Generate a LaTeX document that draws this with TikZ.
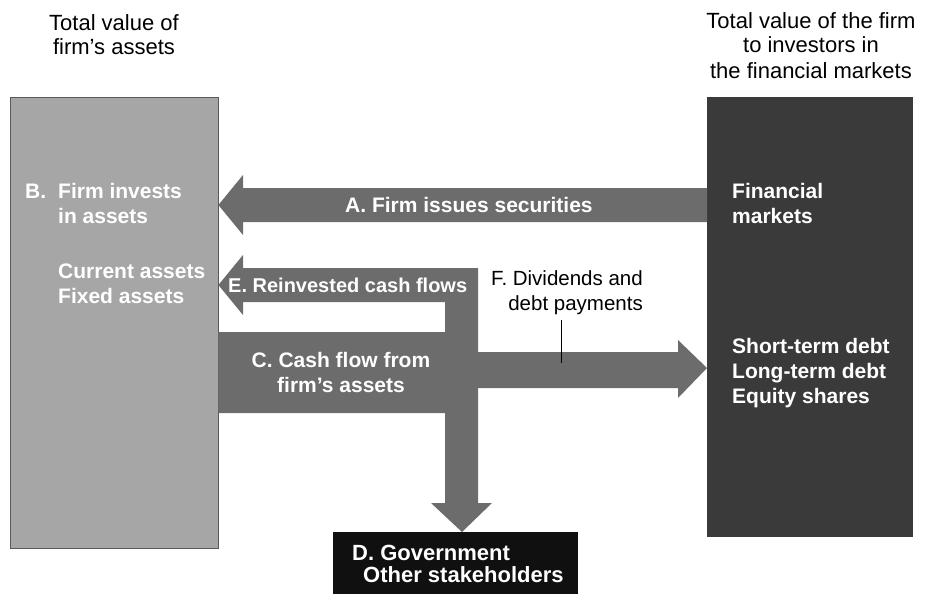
\documentclass[tikz,border=0pt]{standalone}
\usepackage{fontspec}
\setmainfont{Liberation Sans}
\definecolor{assetgray}{RGB}{166,166,166}
\definecolor{flowgray}{RGB}{108,108,108}
\definecolor{marketgray}{RGB}{58,58,58}
\definecolor{govblack}{RGB}{16,16,16}

\begin{document}
\begin{tikzpicture}[x=1pt,y=-1pt,
    flow/.style={fill=flowgray},
    boxtext/.style={text=white,font=\fontsize{21}{25}\selectfont\bfseries,align=left,inner sep=0pt,anchor=base west},
    headtext/.style={font=\fontsize{22}{24}\selectfont,align=center,inner sep=0pt,anchor=base}]
    \useasboundingbox (0,0) rectangle (929,594);

    % the three boxes
    \node[fill=assetgray,draw=gray!70!black,inner sep=0pt,minimum width=208pt,minimum height=451pt,anchor=north west] (assets) at (10,97) {};
    \node[fill=marketgray,inner sep=0pt,minimum width=206pt,minimum height=440pt,anchor=north west] (markets) at (707,97) {};
    \node[fill=govblack,inner sep=0pt,minimum width=245pt,minimum height=62pt,anchor=north west] (gov) at (333,532) {};

    % A: securities
    \fill[flow] (markets.west |- 0,188) -- (243,188) -- (243,175) -- (assets.east |- 0,205)
        -- (243,235) -- (243,222) -- (markets.west |- 0,222) -- cycle;
    % E, C and the way down to D
    \fill[flow] (assets.east |- 0,332) -- (445,332) -- (445,302) -- (243,302) -- (243,315)
        -- (assets.east |- 0,285) -- (243,255) -- (243,268) -- (478,268) -- (478,503)
        -- (492,503) -- (gov.north -| 462,0) -- (431,503) -- (445,503) -- (445,413)
        -- (assets.east |- 0,413) -- cycle;
    % F
    \fill[flow] (476,352) -- (678,352) -- (678,340) -- (markets.west |- 0,368)
        -- (678,398) -- (678,388) -- (476,388) -- cycle;

    % headings (base = last line)
    \node[headtext] (lefthead) at (114,55) {Total value of\\firm's assets};
    \node[headtext,font=\fontsize{22}{25}\selectfont] (righthead) at (811,78) {Total value of the firm\\to investors in\\the financial markets};

    % texts in boxes and arrows
    \node[boxtext] (bletter) at (25,198) {B.};
    \node[boxtext] (binvest) at (58,303) {Firm invests\\in assets\\[30pt]Current assets\\Fixed assets};
    \node[boxtext] (fmarkets) at (732,223) {Financial\\markets};
    \node[boxtext] (securities) at (732,403) {Short-term debt\\Long-term debt\\Equity shares};
    \node[boxtext] (alabel) at (345,212) {A. Firm issues securities};
    \node[boxtext,font=\fontsize{20}{25}\selectfont\bfseries] (elabel) at (228,292) {E. Reinvested cash flows};
    \node[boxtext,align=center,anchor=base] (clabel) at (341,392) {C. Cash flow from\\firm's assets};
    \node[boxtext,font=\fontsize{22}{22}\selectfont\bfseries] (dlabel) at (352,582) {D. Government\\\hspace*{11pt}Other stakeholders};

    \node[font=\fontsize{20.5}{25}\selectfont,align=right,inner sep=0pt,anchor=base east] (flabel) at (643,310) {F. Dividends and\\debt payments};
    \coordinate (fmark) at (561,363);
    \draw[line width=1pt] (flabel.south -| fmark) ++(0,6) -- (fmark);
\end{tikzpicture}
\end{document}
